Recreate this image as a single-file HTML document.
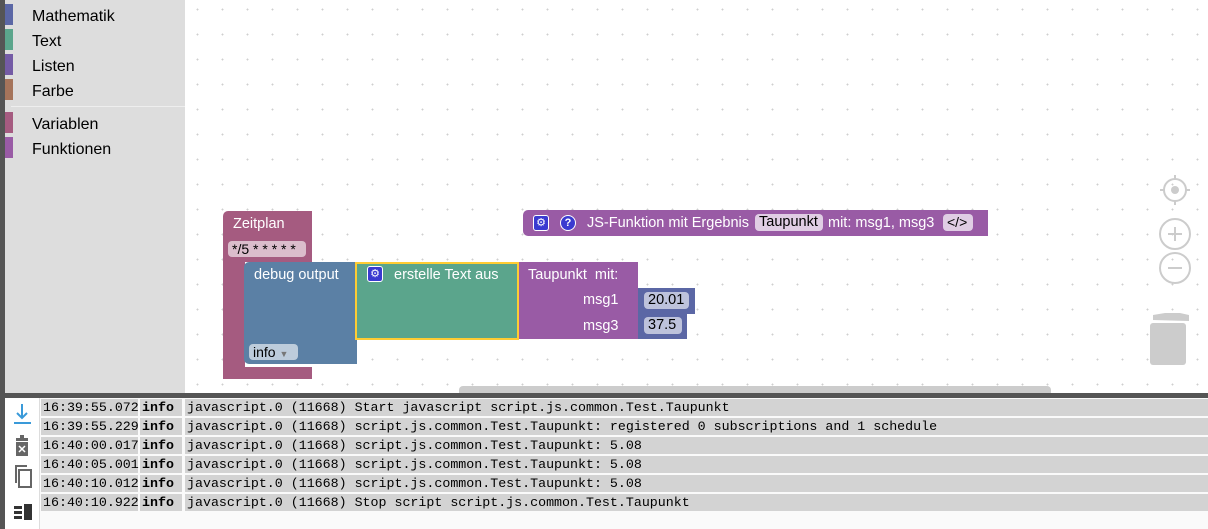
<!DOCTYPE html>
<html><head><meta charset="utf-8"><style>
*{margin:0;padding:0;box-sizing:border-box}
body{width:1208px;height:529px;position:relative;overflow:hidden;background:#fff;font-family:"Liberation Sans",sans-serif}
.a{position:absolute}
.ws{left:185px;top:0;width:1023px;height:393px;background-color:#fff;background-image:radial-gradient(circle,#cfcfcf 0.8px,transparent 1.1px);background-size:25px 25px;background-position:0px -3px}
.tb{left:5px;top:0;width:180px;height:393px;background:#ddd}
.cat{position:absolute;left:0;width:8px;height:21px}
.ct{position:absolute;left:27px;font-size:16px;color:#000}
.w{color:#fff;font-size:14.5px;position:absolute;white-space:nowrap}
.row{position:absolute;left:41px;height:17px;width:1167px;font-family:"Liberation Mono",monospace;font-size:13.3px;line-height:17px;color:#000}
.row span{position:absolute;top:0;height:17px;background:#d3d3d3;padding-left:2px;white-space:nowrap}
.gear{position:absolute;width:16px;height:16px;background:#3a3ad0;border-radius:3px;border:1px solid #fff;color:#fff;font-size:11px;line-height:14px;text-align:center}
</style></head><body>
<div class="a ws"></div>
<div class="a" style="left:0;top:0;width:5px;height:529px;background:#555"></div>
<div class="a tb">
 <div class="cat" style="top:4px;background:#5b67a5"></div><div class="ct" style="top:8px">Mathematik</div>
 <div class="cat" style="top:29px;background:#5ba58c"></div><div class="ct" style="top:33px">Text</div>
 <div class="cat" style="top:54px;background:#745ba5"></div><div class="ct" style="top:58px">Listen</div>
 <div class="cat" style="top:79px;background:#a5745b"></div><div class="ct" style="top:83px">Farbe</div>
 <div style="position:absolute;left:6px;top:106px;width:174px;height:1px;background:#eee"></div>
 <div class="cat" style="top:112px;background:#a55b80"></div><div class="ct" style="top:116px">Variablen</div>
 <div class="cat" style="top:137px;background:#995ba5"></div><div class="ct" style="top:141px">Funktionen</div>
</div>

<!-- Zeitplan -->
<div class="a" style="left:223px;top:211px;width:89px;height:51px;background:#a55b80;border-radius:5px 0 0 0"></div>
<div class="a" style="left:223px;top:250px;width:22px;height:129px;background:#a55b80;border-radius:0 0 0 5px"></div>
<div class="a" style="left:223px;top:367px;width:89px;height:12px;background:#a55b80"></div>
<div class="w" style="left:233px;top:216px">Zeitplan</div>
<div class="a" style="left:228px;top:241px;width:78px;height:16px;background:#dbbdcc;border-radius:4px;font-size:14px;line-height:16px;padding-left:4px;color:#000">*/5 * * * * *</div>

<!-- debug -->
<div class="a" style="left:244px;top:262px;width:113px;height:102px;background:#5b80a5;border-radius:5px 0 0 5px"></div>
<div class="w" style="left:254px;top:267px">debug output</div>
<div class="a" style="left:249px;top:344px;width:49px;height:16px;background:#bdccdb;border-radius:4px;font-size:14px;line-height:16px;padding-left:4px">info <span style="color:#777;font-size:9px">▼</span></div>

<!-- text -->
<div class="a" style="left:355px;top:262px;width:164px;height:78px;background:#5ba58c;border:2px solid #fc3"></div>
<div class="gear" style="left:367px;top:266px">⚙</div>
<div class="w" style="left:394px;top:267px">erstelle Text aus</div>

<!-- taupunkt -->
<div class="a" style="left:519px;top:262px;width:119px;height:77px;background:#995ba5"></div>
<div class="w" style="left:528px;top:267px">Taupunkt&nbsp; mit:</div>
<div class="w" style="left:583px;top:292px">msg1</div>
<div class="w" style="left:583px;top:318px">msg3</div>
<div class="a" style="left:638px;top:288px;width:57px;height:26px;background:#5b67a5"></div>
<div class="a" style="left:644px;top:292px;width:45px;height:17px;background:#bdc2db;border-radius:4px;font-size:14.5px;line-height:17px;padding-left:4px">20.01</div>
<div class="a" style="left:638px;top:314px;width:49px;height:25px;background:#5b67a5"></div>
<div class="a" style="left:644px;top:317px;width:38px;height:17px;background:#bdc2db;border-radius:4px;font-size:14.5px;line-height:17px;padding-left:4px">37.5</div>

<!-- JS-Funktion -->
<div class="a" style="left:523px;top:210px;width:465px;height:26px;background:#995ba5;border-radius:5px 0 0 5px"></div>
<div class="gear" style="left:533px;top:215px">⚙</div>
<div class="a" style="left:560px;top:215px;width:16px;height:16px;border-radius:50%;background:#3a3ad0;border:1px solid #fff;color:#fff;font-size:11px;line-height:14px;text-align:center;font-weight:bold">?</div>
<div class="w" style="left:587px;top:215px">JS-Funktion mit Ergebnis</div>
<div class="a" style="left:755px;top:214px;width:68px;height:17px;background:#e0cde4;border-radius:4px;font-size:14.5px;line-height:17px;padding-left:4px">Taupunkt</div>
<div class="w" style="left:828px;top:215px">mit: msg1, msg3</div>
<div class="a" style="left:943px;top:214px;width:30px;height:17px;background:#e0cde4;border-radius:4px;font-size:14px;line-height:17px;padding-left:4px">&lt;/&gt;</div>

<!-- right controls -->
<svg class="a" style="left:1150px;top:170px" width="50" height="200" viewBox="0 0 50 200">
 <g stroke="#ccc" stroke-width="2" fill="none">
  <circle cx="25" cy="20" r="11"/><line x1="25" y1="5" x2="25" y2="9"/><line x1="25" y1="31" x2="25" y2="35"/><line x1="10" y1="20" x2="14" y2="20"/><line x1="36" y1="20" x2="40" y2="20"/>
  <circle cx="25" cy="64" r="15"/><line x1="18" y1="64" x2="32" y2="64"/><line x1="25" y1="57" x2="25" y2="71"/>
  <circle cx="25" cy="98" r="15"/><line x1="18" y1="98" x2="32" y2="98"/>
 </g>
 <circle cx="25" cy="20" r="4" fill="#ccc"/>
 <path d="M3 145 L15 143 L30 143 L39 145 L39 151 L3 150Z" fill="#ccc"/>
 <rect x="0" y="153" width="36" height="42" rx="3" fill="#ccc"/>
</svg>

<div class="a" style="left:459px;top:386px;width:592px;height:8px;background:#ccc;border-radius:4px 4px 0 0"></div>
<div class="a" style="left:0;top:393px;width:1208px;height:5px;background:#555"></div>

<!-- log -->
<div class="a" style="left:5px;top:398px;width:1203px;height:131px;background:#fafafa"></div>
<div class="a" style="left:5px;top:398px;width:35px;height:131px;background:#fff;border-right:1px solid #ddd"></div>
<svg class="a" style="left:10px;top:400px" width="28" height="125" viewBox="0 0 28 125">
 <line x1="12" y1="4" x2="12" y2="18" stroke="#3a9ad9" stroke-width="2"/><path d="M7 13 L12 18 L17 13" stroke="#3a9ad9" stroke-width="2" fill="none"/><line x1="4" y1="23" x2="21" y2="23" stroke="#3a9ad9" stroke-width="2"/>
 <rect x="6" y="38" width="12" height="3" fill="#666"/><rect x="10" y="35" width="4" height="3" fill="#666"/><rect x="6" y="42" width="12" height="14" fill="#666"/><path d="M9 46 L15 52 M15 46 L9 52" stroke="#fff" stroke-width="1.5"/>
 <path d="M6 83 L6 66 L17 66" stroke="#666" stroke-width="2" fill="none"/><rect x="9" y="70" width="12" height="17" fill="none" stroke="#666" stroke-width="2"/>
 <g fill="#333"><rect x="4" y="106" width="8" height="3"/><rect x="4" y="111" width="8" height="3"/><rect x="4" y="116" width="8" height="3"/><rect x="14" y="104" width="8" height="16"/></g>
</svg>
<div class="row" style="top:399px"><span style="left:0;width:97px">16:39:55.072</span><span style="left:99px;width:42px;font-weight:bold">info</span><span style="left:144px;width:1023px">javascript.0 (11668) Start javascript script.js.common.Test.Taupunkt</span></div>
<div class="row" style="top:418px"><span style="left:0;width:97px">16:39:55.229</span><span style="left:99px;width:42px;font-weight:bold">info</span><span style="left:144px;width:1023px">javascript.0 (11668) script.js.common.Test.Taupunkt: registered 0 subscriptions and 1 schedule</span></div>
<div class="row" style="top:437px"><span style="left:0;width:97px">16:40:00.017</span><span style="left:99px;width:42px;font-weight:bold">info</span><span style="left:144px;width:1023px">javascript.0 (11668) script.js.common.Test.Taupunkt: 5.08</span></div>
<div class="row" style="top:456px"><span style="left:0;width:97px">16:40:05.001</span><span style="left:99px;width:42px;font-weight:bold">info</span><span style="left:144px;width:1023px">javascript.0 (11668) script.js.common.Test.Taupunkt: 5.08</span></div>
<div class="row" style="top:475px"><span style="left:0;width:97px">16:40:10.012</span><span style="left:99px;width:42px;font-weight:bold">info</span><span style="left:144px;width:1023px">javascript.0 (11668) script.js.common.Test.Taupunkt: 5.08</span></div>
<div class="row" style="top:494px"><span style="left:0;width:97px">16:40:10.922</span><span style="left:99px;width:42px;font-weight:bold">info</span><span style="left:144px;width:1023px">javascript.0 (11668) Stop script script.js.common.Test.Taupunkt</span></div>
</body></html>
